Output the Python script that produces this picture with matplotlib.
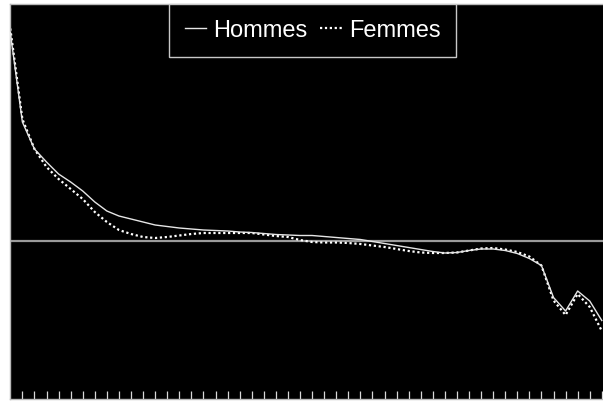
import numpy as np
import matplotlib
matplotlib.use("Agg")
import matplotlib.pyplot as plt

plt.rcParams['font.family'] = ['Liberation Sans', 'DejaVu Sans']

# x positions (0..49) and the two series
ages = np.arange(50)
hommes = [2.08, 1.185, 0.915, 0.785, 0.665, 0.585, 0.495, 0.385, 0.295, 0.245,
          0.215, 0.185, 0.155, 0.14, 0.125, 0.115, 0.105, 0.10, 0.095, 0.085,
          0.08, 0.07, 0.06, 0.055, 0.05, 0.05, 0.04, 0.03, 0.02, 0.01,
          -0.01, -0.03, -0.05, -0.07, -0.09, -0.11, -0.125, -0.12, -0.10, -0.085,
          -0.085, -0.10, -0.13, -0.18, -0.25, -0.57, -0.705, -0.505, -0.605, -0.80]
femmes = [2.12, 1.215, 0.915, 0.735, 0.615, 0.515, 0.415, 0.285, 0.185, 0.105,
          0.065, 0.035, 0.025, 0.035, 0.05, 0.065, 0.075, 0.075, 0.075, 0.075,
          0.075, 0.06, 0.045, 0.035, 0.005, -0.015, -0.02, -0.02, -0.025, -0.035,
          -0.05, -0.065, -0.085, -0.105, -0.12, -0.125, -0.125, -0.12, -0.10, -0.08,
          -0.075, -0.09, -0.115, -0.16, -0.25, -0.60, -0.745, -0.535, -0.665, -0.905]
labels = ['Hommes', 'Femmes']

fig = plt.figure(figsize=(6.03, 4.02), dpi=100)
fig.patch.set_facecolor('white')
ax = fig.add_axes([10.3 / 603, 2 / 402, 1 - 10.3 / 603, 395 / 402])
ax.set_facecolor('black')

ax.axhline(0, color='#9a9a9a', lw=1.6, zorder=1)
ax.plot(ages, hommes, color='#e6e6e6', lw=1.0, label=labels[0], zorder=3)
ax.plot(ages, femmes, color='white', lw=1.6, ls=(0, (1, 1.2)), label=labels[1], zorder=2)

ax.set_xlim(0, 49.1)
ax.set_ylim(-1.585, 2.365)
ax.set_xticks(np.arange(1, 50))
ax.set_xticklabels([])
ax.set_yticks([])
ax.tick_params(axis='x', direction='in', length=5.5, width=0.9, color='#d8d8d8')

for side in ['left', 'top', 'bottom']:
    ax.spines[side].set_color('#b8b8b8')
    ax.spines[side].set_linewidth(1.0)
ax.spines['right'].set_visible(False)

leg = ax.legend(loc='upper center', bbox_to_anchor=(0.51, 1.0), ncol=2,
                frameon=True, fancybox=False, fontsize=17, borderaxespad=0,
                handlelength=0.9, handletextpad=0.3, columnspacing=0.55,
                borderpad=0.65)
leg.get_frame().set_facecolor('black')
leg.get_frame().set_edgecolor('#c8c8c8')
leg.get_frame().set_alpha(1)
for t in leg.get_texts():
    t.set_color('white')

fig.savefig('out.png', dpi=100, facecolor='white')
